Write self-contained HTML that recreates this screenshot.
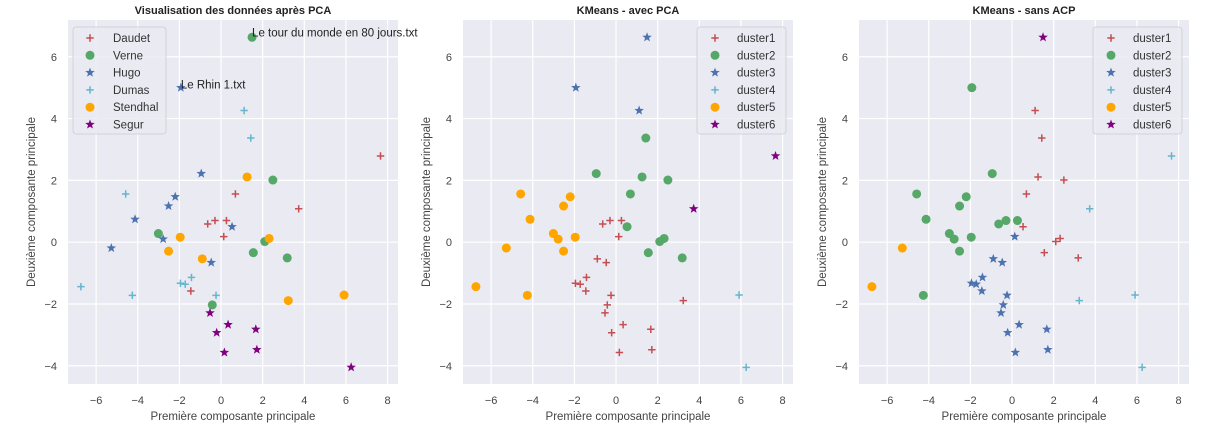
<!DOCTYPE html>
<html><head><meta charset="utf-8"><style>
body{margin:0;background:#fff;}
svg{display:block;font-family:"Liberation Sans",sans-serif;}
</style></head><body>
<svg id="chart" width="1214" height="431" viewBox="0 0 1214 431" xmlns="http://www.w3.org/2000/svg"></svg>
<script>
const xs = [7.66,0.69,3.73,-0.64,-0.29,0.26,0.13,-1.45, 1.49,2.49,-3.01,2.10,1.55,3.18,-0.42, -1.93,-0.95,-2.20,-2.52,-4.13,0.53,-2.78,-5.27,-0.47, 1.11,1.43,-4.58,-6.73,-4.26,-1.42,-1.95,-1.72,-0.24, 1.25,-1.96,2.31,-2.52,-0.90,3.23,5.91, -0.53,0.34,1.67,-0.21,0.16,1.72,6.25];
const ys = [2.79,1.56,1.08,0.59,0.70,0.70,0.18,-1.58, 6.63,2.01,0.28,0.02,-0.34,-0.51,-2.03, 5.0,2.22,1.47,1.17,0.74,0.50,0.10,-0.19,-0.66, 4.26,3.37,1.56,-1.44,-1.72,-1.14,-1.33,-1.36,-1.72, 2.11,0.16,0.12,-0.29,-0.54,-1.89,-1.71, -2.29,-2.67,-2.82,-2.93,-3.57,-3.48,-4.05];
const authors = [0,0,0,0,0,0,0,0, 1,1,1,1,1,1,1, 2,2,2,2,2,2,2,2,2, 3,3,3,3,3,3,3,3,3, 4,4,4,4,4,4,4, 5,5,5,5,5,5,5];
const clustersPCA = [5,1,5,0,0,0,0,0, 2,1,4,1,1,1,0, 2,1,4,4,4,1,4,4,0, 2,1,4,4,4,0,0,0,0, 1,4,1,4,0,0,3, 0,0,0,0,0,0,3];
const clustersRaw = [3,0,3,1,1,1,2,2, 5,0,1,0,0,0,2, 1,1,1,1,1,0,1,4,2, 0,0,1,4,1,2,2,2,2, 0,1,0,1,2,3,3, 2,2,2,2,2,2,3];
const authorNames = ["Daudet","Verne","Hugo","Dumas","Stendhal","Segur"];
const clusterNames = ["duster1","duster2","duster3","duster4","duster5","duster6"];
const xTicks = [-6,-4,-2,0,2,4,6,8];
const yTicks = [-4,-2,0,2,4,6];
const titles = ["Visualisation des données après PCA","KMeans - avec PCA","KMeans - sans ACP"];

const colors=["#c44e52","#55a868","#4c72b0","#64b5cd","#ffa500","#800080"];
const shapes=["plus","circle","star","plus","circle","star"];
const NS="http://www.w3.org/2000/svg";
const svg=document.getElementById('chart');
function mk(tag,attrs,parent){const e=document.createElementNS(NS,tag);for(const k in attrs)e.setAttribute(k,attrs[k]);(parent||svg).appendChild(e);return e;}
const XMIN=-7.35,XMAX=8.5,YMIN=-4.59,YMAX=7.19,TOP=20,H=364,W=330;
const lefts=[68,463,859];
function marker(g,shape,color,cx,cy){
  if(shape==="circle"){return mk('circle',{cx:cx,cy:cy,r:4.5,fill:color},g);}
  if(shape==="plus"){return mk('path',{d:`M${cx-3.7},${cy}H${cx+3.7}M${cx},${cy-3.7}V${cy+3.7}`,stroke:color,'stroke-width':1.5,fill:'none'},g);}
  let p=[];for(let i=0;i<10;i++){const r=i%2?2.1:5.0;const a=-Math.PI/2+i*Math.PI/5;p.push((cx+r*Math.cos(a)).toFixed(2)+','+(cy+r*Math.sin(a)).toFixed(2));}
  return mk('polygon',{points:p.join(' '),fill:color},g);
}
const labelSets=[authors,clustersPCA,clustersRaw];
for(let pi=0;pi<3;pi++){
  const L=lefts[pi];
  const sx=v=>L+(v-XMIN)/(XMAX-XMIN)*W;
  const sy=v=>TOP+(YMAX-v)/(YMAX-YMIN)*H;
  const g=mk('g',{});
  
  
  const bg=mk('rect',{x:L,y:TOP,width:W,height:H,fill:'#eaeaf2'},g);
  
  
  xTicks.forEach(t=>{
    const ln=mk('line',{x1:sx(t),x2:sx(t),y1:TOP,y2:TOP+H,stroke:'#fff','stroke-width':1.2},g);
    
    
    const tx=mk('text',{x:sx(t),y:404,'text-anchor':'middle','font-size':11,fill:'#444'},g);
    tx.textContent=t<0?'\u2212'+(-t):String(t);
    
    
  });
  yTicks.forEach(t=>{
    const ln=mk('line',{x1:L,x2:L+W,y1:sy(t),y2:sy(t),stroke:'#fff','stroke-width':1.2},g);
    
    
    const tx=mk('text',{x:L-11,y:sy(t)+4,'text-anchor':'end','font-size':11,fill:'#444'},g);
    tx.textContent=t<0?'\u2212'+(-t):String(t);
    
    
  });
  const title=mk('text',{x:L+W/2,y:14,'text-anchor':'middle','font-size':11,'font-weight':'bold',fill:'#222'},g);
  title.textContent=titles[pi];
  
  
  const xl=mk('text',{x:L+W/2,y:420,'text-anchor':'middle','font-size':11.5,fill:'#444'},g);
  xl.textContent='Première composante principale';
  
  
  const yx=L-33,yy=TOP+H/2;
  const yl=mk('text',{x:yx,y:yy,'text-anchor':'middle','font-size':11.5,fill:'#444',transform:`rotate(-90 ${yx} ${yy})`},g);
  yl.textContent='Deuxième composante principale';
  
  
  const labs=labelSets[pi];
  for(let i=0;i<xs.length;i++){
    const m=marker(g,shapes[labs[i]],colors[labs[i]],sx(xs[i]),sy(ys[i]));
    
    
  }
  if(pi===0){
    const a1=mk('text',{x:sx(1.49),y:sy(6.63)-1,'font-size':11.5,fill:'#222'},svg);
    a1.textContent='Le tour du monde en 80 jours.txt';
    
    
    const a2=mk('text',{x:sx(-1.93),y:sy(5.0)+1,'font-size':11.5,fill:'#222'},g);
    a2.textContent='Le Rhin 1.txt';
    
    
  }
  const lx=pi===0?L+5:L+W-96, ly=27, names=pi===0?authorNames:clusterNames;
  const lg=mk('g',{},g);
  
  
  mk('rect',{x:lx,y:ly,width:pi===0?93:89,height:107,rx:3,fill:'#eaeaf2','fill-opacity':0.85,stroke:'#ccc','stroke-width':0.8},lg);
  names.forEach((n,k)=>{
    const cy=ly+11+k*17.3;
    const e=mk('g',{},lg);
    
    
    marker(e,shapes[k],colors[k],lx+(pi===0?17:18),cy);
    const t=mk('text',{x:lx+40,y:cy+4,'font-size':11.5,fill:'#333'},e);
    t.textContent=n;
  });
}
</script>
</body></html>
